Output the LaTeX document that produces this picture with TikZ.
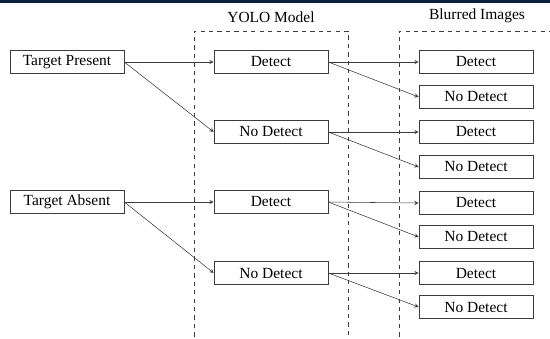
\documentclass[tikz,border=0pt]{standalone}
\usepackage{fontspec}
\setmainfont{Liberation Serif}
\usepackage{tikz}
\usepackage{xcolor}
\usetikzlibrary{arrows, positioning}
\definecolor{barnavy}{RGB}{12, 30, 72}
\definecolor{linegray}{RGB}{60, 60, 60}

\begin{document}
\begin{tikzpicture}[
    x=0.025cm, y=-0.025cm,
    every node/.style={font=\fontsize{11}{13}\selectfont},
    outcome/.style={rectangle, minimum width=2.85cm, minimum height=0.57cm, text centered, draw=linegray, inner sep=0pt},
    group/.style={draw=linegray, dashed, thin},
    link/.style={->, >=stealth, draw=linegray, thin}
]

\useasboundingbox (0,0) rectangle (550,338);

% top bar
\fill [barnavy] (0,0) rectangle (550,3);

% groups
\draw [group] (194,345) -- (194,31) -- (348,31) -- (348,345);
\draw [group] (399,345) -- (399,31) -- (560,31);
\node (yolo_title) at (271,17) {YOLO Model};
\node (blur_title) at (477,16) {Blurred Images};

% ground truth
\node (present) [outcome] at (67,62) {Target Present};
\node (absent) [outcome] at (67,202) {Target Absent};

% YOLO outputs
\node (yolo_det_p) [outcome] at (271,62) {Detect};
\node (yolo_nodet_p) [outcome] at (271,132) {No Detect};
\node (yolo_det_a) [outcome] at (271,202) {Detect};
\node (yolo_nodet_a) [outcome] at (271,273) {No Detect};

% blurred outputs
\node (blur_det_1) [outcome] at (476,62) {Detect};
\node (blur_nodet_1) [outcome] at (476,97) {No Detect};
\node (blur_det_2) [outcome] at (476,132) {Detect};
\node (blur_nodet_2) [outcome] at (476,167) {No Detect};
\node (blur_det_3) [outcome] at (476,203) {Detect};
\node (blur_nodet_3) [outcome] at (476,237) {No Detect};
\node (blur_det_4) [outcome] at (476,273) {Detect};
\node (blur_nodet_4) [outcome] at (476,307) {No Detect};

% connectors
\draw [link] (present.east) -- (yolo_det_p.west);
\draw [link] (present.east) -- (yolo_nodet_p.west);
\draw [link] (absent.east) -- (yolo_det_a.west);
\draw [link] (absent.east) -- (yolo_nodet_a.west);

\draw [link] (yolo_det_p.east) -- (blur_det_1.west);
\draw [link] (yolo_det_p.east) -- (blur_nodet_1.west);
\draw [link] (yolo_nodet_p.east) -- (blur_det_2.west);
\draw [link] (yolo_nodet_p.east) -- (blur_nodet_2.west);
\draw [link] (yolo_det_a.east) -- (blur_det_3.west);
\draw [link] (yolo_det_a.east) -- (blur_nodet_3.west);
\draw [link] (yolo_nodet_a.east) -- (blur_det_4.west);
\draw [link] (yolo_nodet_a.east) -- (blur_nodet_4.west);

\end{tikzpicture}
\end{document}
